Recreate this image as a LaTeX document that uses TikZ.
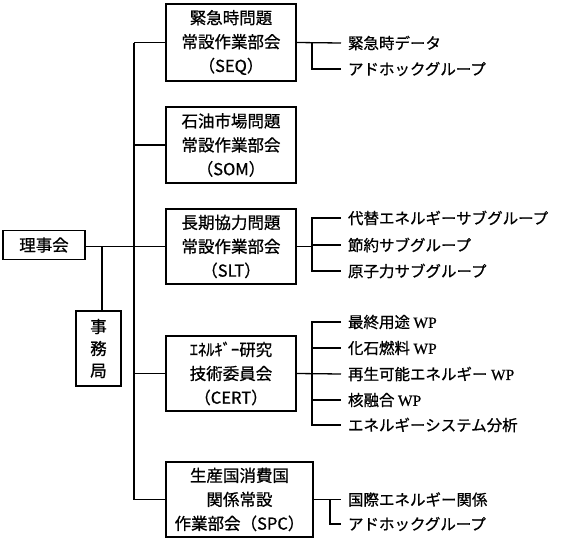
\documentclass[tikz,border=0pt]{standalone}
\usepackage{fontspec}
\setmainfont{Noto Sans CJK JP}[FakeBold=0.8]
\newfontfamily\wpfont{Liberation Serif}[FakeBold=0.6]
\newcommand{\WP}{{\wpfont WP}}
\begin{document}
\begin{tikzpicture}[x=1pt,y=-1pt,
  box/.style={draw,line width=1.7pt,minimum width=130pt,minimum height=75pt,align=center,inner sep=0pt,font=\fontsize{16.5}{24}\selectfont},
  item/.style={anchor=west,inner sep=0pt,outer xsep=7pt,font=\fontsize{15.5}{18}\selectfont},
  ln/.style={line width=1.3pt}]
\useasboundingbox (0,0) rectangle (566,541);
\node[box,minimum height=77pt] (seq) at (231,42.5) {緊急時問題\\常設作業部会\\（SEQ）};
\node[box,minimum height=76pt] (som) at (231,145) {石油市場問題\\常設作業部会\\（SOM）};
\node[box] (slt) at (231,246.5) {長期協力問題\\常設作業部会\\（SLT）};
\node[box] (cert) at (231,373.5) {ｴﾈﾙｷﾞｰ研究\\技術委員会\\（CERT）};
\node[box,minimum width=147pt] (spc) at (239.5,499.5) {生産国消費国\\関係常設\\作業部会（SPC）};
\node[box,minimum width=82pt,minimum height=29pt] (rij) at (44,245) {理事会};
\node[box,minimum width=45pt,minimum height=75pt,font=\fontsize{16.5}{22}\selectfont] (jim) at (98.5,348.5) {事\\務\\局};
% trunk
\coordinate (ttop) at (134,42.5);
\coordinate (tbot) at (134,499.5);
\coordinate (jb) at (102,246.5);
\draw[ln] (ttop) -- (tbot);
\draw[ln] (rij.east |- jb) -- (jb -| ttop);
\draw[ln] (jb) -- (jb |- jim.north);
\foreach \n in {seq,som,slt,cert,spc}
  \draw[ln] (\n.west -| ttop) -- (\n.west);
% SEQ items
\node[item] (s1) at (341,43) {緊急時データ};
\node[item] (s2) at (341,69) {アドホックグループ};
\draw[ln] (seq.east) -- (s1.west);
\coordinate (sv) at (312,43);
\draw[ln] (sv) |- (s2.west);
% SLT items
\node[item] (l1) at (341,218) {代替エネルギーサブグループ};
\node[item] (l2) at (341,245) {節約サブグループ};
\node[item] (l3) at (341,271) {原子力サブグループ};
\coordinate (lv) at (312,246.5);
\draw[ln] (slt.east) -- (lv);
\draw[ln] (l1.west) -| (lv |- l3.west) -- (l3.west);
\draw[ln] (l2.west -| lv) -- (l2.west);
% CERT items
\node[item] (c1) at (341,322) {最終用途 \WP};
\node[item] (c2) at (341,348) {化石燃料 \WP};
\node[item] (c3) at (341,374) {再生可能エネルギー \WP};
\node[item] (c4) at (341,400) {核融合 \WP};
\node[item] (c5) at (341,425) {エネルギーシステム分析};
\coordinate (cv) at (312,373.5);
\draw[ln] (cert.east) -- (c3.west);
\draw[ln] (c1.west) -| (cv |- c5.west) -- (c5.west);
\draw[ln] (c2.west -| cv) -- (c2.west);
\draw[ln] (c4.west -| cv) -- (c4.west);
% SPC items
\node[item] (p1) at (341,499.5) {国際エネルギー関係};
\node[item] (p2) at (341,524) {アドホックグループ};
\coordinate (pv) at (330,499.5);
\draw[ln] (spc.east) -- (p1.west);
\draw[ln] (pv) |- (p2.west);
\end{tikzpicture}
\end{document}
